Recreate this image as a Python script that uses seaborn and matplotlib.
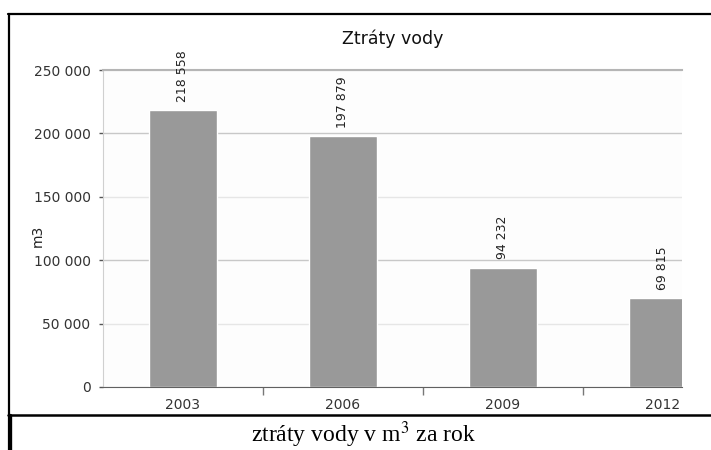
import matplotlib
matplotlib.use("Agg")
import numpy as np
import pandas as pd
import seaborn as sns
import matplotlib.pyplot as plt
from matplotlib.lines import Line2D
from matplotlib.ticker import FuncFormatter, FixedLocator

# data
years = ["2003", "2006", "2009", "2012"]
losses = [218558, 197879, 94232, 69815]
y_ticks = [0, 50000, 100000, 150000, 200000, 250000]

df = pd.DataFrame({"rok": years, "ztraty": losses})

sns.set_style("white")
plt.rcParams["font.family"] = ["DejaVu Sans"]

fig = plt.figure(figsize=(7.11, 4.5), dpi=100)
ax = fig.add_axes([103 / 711, 1 - 387 / 450, 579 / 711, 317 / 450])
ax.set_facecolor("#fdfdfd")

sns.barplot(data=df, x="rok", y="ztraty", color="#999999", width=0.425,
            saturation=1, ax=ax, zorder=2)

ax.set_xlim(-0.5, 3.12)
ax.set_ylim(0, 250000)
ax.set_yticks(y_ticks)
ax.yaxis.set_major_formatter(FuncFormatter(lambda v, p: f"{v:,.0f}".replace(",", " ")))

# grid lines, the ones at 100k/200k stand out more
ax.set_axisbelow(True)
ax.yaxis.grid(True, color="#e6e6e6", lw=1)
for val, gl in zip(y_ticks, ax.yaxis.get_gridlines()):
    if val in (100000, 200000):
        gl.set_color("#c8c8c8")

# value labels
for i, v in enumerate(losses):
    ax.annotate(f"{v:,}".replace(",", " "), (i, v), xytext=(0, 6),
                textcoords="offset points", rotation=90, ha="center", va="bottom",
                fontsize=9, color="#222222")

ax.set_title("Ztráty vody", fontsize=12.5, color="#111111", pad=19)
ax.set_xlabel("")
ax.set_ylabel("m3", fontsize=10, color="#222222")
ax.yaxis.set_label_coords(-0.1, 0.476)

ax.tick_params(axis="y", length=3, width=1, color="#555555", labelsize=10,
               labelcolor="#333333", pad=6, left=True)
ax.tick_params(axis="x", which="major", length=0, labelsize=10,
               labelcolor="#333333", pad=8)
ax.xaxis.set_minor_locator(FixedLocator([0.5, 1.5, 2.5]))
ax.tick_params(axis="x", which="minor", length=6, width=1, color="#777777",
               bottom=True, direction="out")

for side in ["left", "top", "bottom", "right"]:
    ax.spines[side].set_visible(True)
ax.spines["left"].set_color("#d0d0d0")
ax.spines["top"].set_color("#b5b5b5")
ax.spines["top"].set_linewidth(1.5)
ax.spines["bottom"].set_color("#606060")
ax.spines["right"].set_visible(False)

# table frame around the chart and the caption
H = 450.0
W = 711.0
fig.add_artist(Line2D([8 / W, 1], [1 - 13.5 / H] * 2, color="black", lw=1.6))
fig.add_artist(Line2D([8.5 / W] * 2, [1 - 13.5 / H, 0], color="black", lw=1.6))
fig.add_artist(Line2D([8 / W, 1], [1 - 415 / H] * 2, color="black", lw=1.8))
fig.add_artist(Line2D([9.5 / W] * 2, [1 - 415 / H, 0], color="black", lw=2.4))

fig.text(363 / W, 1 - 442 / H, "ztráty vody v m$^3$ za rok", ha="center",
         va="baseline", fontsize=17, family="Liberation Serif", color="black",
         math_fontfamily="stix")

fig.savefig("out.png", dpi=100)
